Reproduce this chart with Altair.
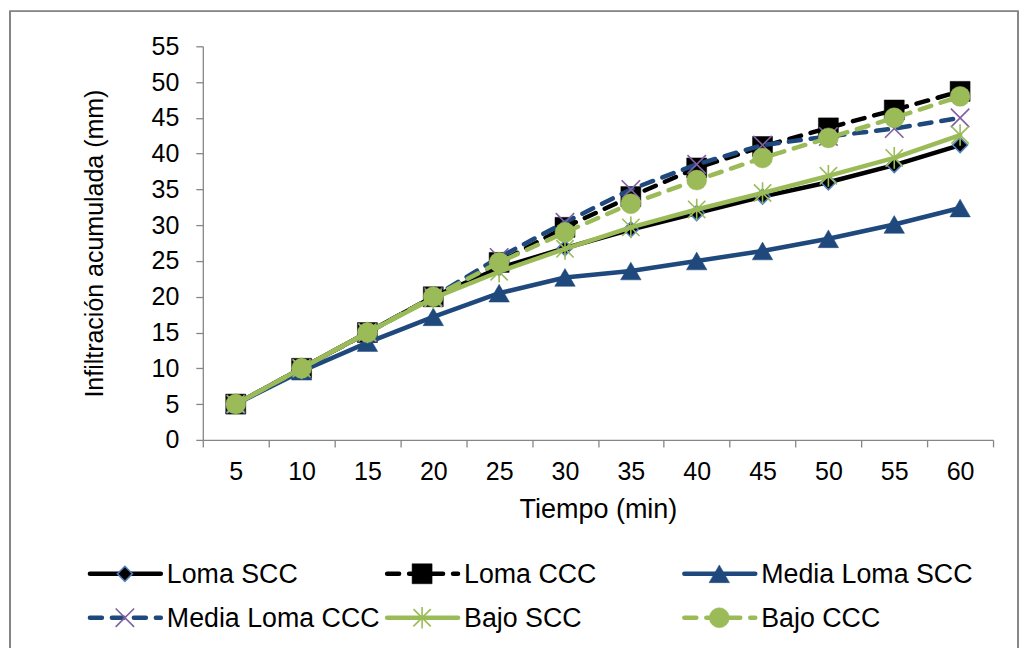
import altair as alt
import pandas as pd

FONT = "Liberation Sans"

# ---- data ----
time_min = [5, 10, 15, 20, 25, 30, 35, 40, 45, 50, 55, 60]
series_names = ["Loma SCC", "Loma CCC", "Media Loma SCC",
                "Media Loma CCC", "Bajo SCC", "Bajo CCC"]
loma_scc = [5, 10, 15, 20, 24.0, 26.8, 29.4, 31.7, 34.0, 36.0, 38.4, 41.2]
loma_ccc = [5, 10, 15, 20, 24.8, 29.7, 34.0, 38.0, 41.0, 43.6, 46.1, 48.7]
media_loma_scc = [5, 9.6, 13.6, 17.2, 20.5, 22.7, 23.6, 25.0, 26.4, 28.1, 30.1, 32.4]
media_loma_ccc = [5, 10, 15, 20, 25.5, 30.4, 35.0, 38.5, 41.2, 42.4, 43.5, 45.0]
bajo_scc = [5, 10, 15, 19.8, 23.5, 26.7, 29.7, 32.2, 34.5, 36.9, 39.4, 42.6]
bajo_ccc = [5, 10, 15, 20, 24.8, 29.0, 33.0, 36.3, 39.4, 42.2, 45.0, 48.0]
y_ticks = [0, 5, 10, 15, 20, 25, 30, 35, 40, 45, 50, 55]

all_values = [loma_scc, loma_ccc, media_loma_scc, media_loma_ccc, bajo_scc, bajo_ccc]
rows = []
for name, vals in zip(series_names, all_values):
    for t, v in zip(time_min, vals):
        rows.append({"t": t, "serie": name, "v": v})
df = pd.DataFrame(rows)

legend_df = pd.DataFrame({
    "serie": series_names,
    "col": [i % 3 for i in range(len(series_names))],
    "row": [i // 3 for i in range(len(series_names))],
})

# ---- styles ----
BLACK = "#000000"
NAVY = "#1F497D"
GREEN = "#9BBB59"
X_PATH = "M-1,-1L1,1M-1,1L1,-1"
STAR_PATH = "M-1,-1L1,1M-1,1L1,-1M0,-1.25L0,1.25"
DASH = [12, 10]
LW = 4.5

styles = {
    "Loma SCC": dict(line=BLACK, dash=None, shape="diamond", size=225,
                     fill=BLACK, stroke="#4F81BD", sw=1.6),
    "Loma CCC": dict(line=BLACK, dash=DASH, shape="square", size=400,
                     fill=BLACK, stroke=BLACK, sw=0.5),
    "Media Loma SCC": dict(line=NAVY, dash=None, shape="triangle-up", size=420,
                           fill=NAVY, stroke=NAVY, sw=0.5),
    "Media Loma CCC": dict(line=NAVY, dash=DASH, shape=X_PATH, size=340,
                           fill=None, stroke="#7F60A0", sw=1.6),
    "Bajo SCC": dict(line=GREEN, dash=None, shape=STAR_PATH, size=300,
                     fill=None, stroke=GREEN, sw=1.6),
    "Bajo CCC": dict(line=GREEN, dash=DASH, shape="circle", size=400,
                     fill=GREEN, stroke=GREEN, sw=0.5),
}


def line_kwargs(st):
    kw = dict(color=st["line"], strokeWidth=LW, strokeCap="round", strokeJoin="round")
    if st["dash"]:
        kw["strokeDash"] = st["dash"]
    return kw


def point_kwargs(st):
    kw = dict(shape=st["shape"], size=st["size"], stroke=st["stroke"],
              strokeWidth=st["sw"], opacity=1)
    if st["fill"]:
        kw.update(filled=True, fill=st["fill"], fillOpacity=1)
    else:
        kw.update(filled=False, fill="transparent")
    return kw


# ---- main plot ----
x_enc = alt.X(
    "t:O", title="Tiempo (min)", bandPosition=0.5,
    sort=time_min,
    scale=alt.Scale(type="band", paddingInner=0, paddingOuter=0),
    axis=alt.Axis(labelAngle=0, tickBand="extent", labelPadding=13,
                  titleY=78, titleBaseline="alphabetic", titleFontSize=27),
)
y_enc = alt.Y(
    "v:Q", title="Infiltración acumulada (mm)",
    scale=alt.Scale(domain=[0, 55], nice=False, zero=True),
    axis=alt.Axis(values=y_ticks, labelPadding=17,
                  titleX=-100, titleY=197, titleBaseline="alphabetic"),
)

base = alt.Chart(df).encode(x=x_enc, y=y_enc)
layers = []
for name in series_names:
    st = styles[name]
    flt = alt.datum.serie == name
    layers.append(base.mark_line(**line_kwargs(st)).transform_filter(flt))
    layers.append(base.mark_point(**point_kwargs(st)).transform_filter(flt))

main = alt.layer(*layers).properties(width=791, height=394)

# ---- custom legend (line + marker symbols) ----
lx = alt.X("col:Q", scale=alt.Scale(domain=[0, 3], range=[-36, 856.5]), axis=None)
ly = alt.Y("row:Q", scale=alt.Scale(domain=[0, 1], range=[0, 44]), axis=None)
lbase = alt.Chart(legend_df).encode(x=lx, y=ly)

leg_layers = []
for name in series_names:
    st = styles[name]
    flt = alt.datum.serie == name
    rule_kw = dict(color=st["line"], strokeWidth=LW, strokeCap="round",
                   xOffset=-77, x2Offset=-6)
    if st["dash"]:
        rule_kw["strokeDash"] = st["dash"]
    leg_layers.append(
        lbase.mark_rule(**rule_kw).encode(x2="col:Q").transform_filter(flt))
    leg_layers.append(
        lbase.mark_point(xOffset=-42, **point_kwargs(st)).transform_filter(flt))

leg_layers.append(
    lbase.mark_text(align="left", baseline="alphabetic", dy=9, fontSize=26.8,
                    font=FONT, color="black").encode(text="serie:N"))

# outer chart frame (decoration)
frame = alt.Chart(legend_df).mark_rect(
    fill="transparent", stroke="#868686", strokeWidth=1.3
).encode(x=alt.value(-193), x2=alt.value(816), y=alt.value(-563), y2=alt.value(90))
leg_layers.append(frame)

legend = alt.layer(*leg_layers).properties(width=791, height=44)

chart = alt.vconcat(main, legend, spacing=134, bounds="flush").properties(
    padding={"left": 1, "top": 2, "right": 0, "bottom": 0},
    background="white",
).configure_view(stroke=None).configure_axis(
    grid=False,
    domainColor="#868686",
    tickColor="#868686",
    domainWidth=1.3,
    tickWidth=1.3,
    tickSize=7,
    labelFont=FONT,
    labelFontSize=25,
    labelColor="black",
    titleFont=FONT,
    titleFontSize=25,
    titleFontWeight="normal",
    titleColor="black",
)

chart.save("out.html", embed_options={"renderer": "svg", "actions": False})
